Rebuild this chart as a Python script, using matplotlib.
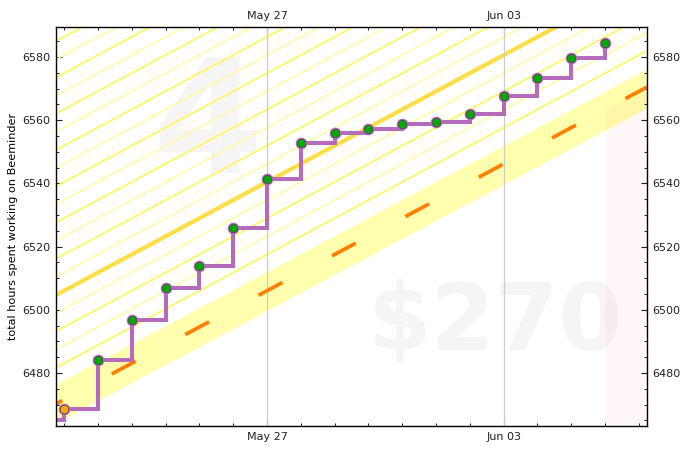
import numpy as np
import matplotlib
matplotlib.use("Agg")
import matplotlib.pyplot as plt
import matplotlib.dates as mdates

# Datapoints (first one sits just off the left edge)
dates = ["2014-05-20", "2014-05-21", "2014-05-22", "2014-05-23", "2014-05-24", "2014-05-25",
         "2014-05-26", "2014-05-27", "2014-05-28", "2014-05-29", "2014-05-30", "2014-05-31",
         "2014-06-01", "2014-06-02", "2014-06-03", "2014-06-04", "2014-06-05", "2014-06-06"]
hours = [6465.0, 6468.5, 6484.0, 6496.7, 6507.0, 6514.0, 6526.0, 6541.3, 6552.8, 6556.0,
         6557.3, 6558.8, 6559.5, 6562.0, 6567.8, 6573.3, 6579.6, 6584.3]

# Road and band end values at the two axis limits
x_limits = ["2014-05-20 18:15", "2014-06-07 05:45"]
y_limits = [6463.2, 6589.5]
road = [6470.2, 6570.5]
band_top = [6476.5, 6576.2]
band_bottom = [6464.2, 6563.9]
road_rate = 5.74  # hours per day, spacing of the guide lines
guide_days = [2, 3, 4, 5, 6, 7, 8, 9, 10, 11, 12, 13, 14, 15, 16, 17, 18, 19, 20]
thick_guide = 6
pink_start = "2014-06-06"

tick_dates = ["2014-05-27", "2014-06-03"]
ylabel = "total hours spent working on Beeminder"

x = mdates.date2num(np.array(dates, dtype="datetime64[m]"))
xl = mdates.date2num(np.array(x_limits, dtype="datetime64[m]"))
ticks = mdates.date2num(np.array(tick_dates, dtype="datetime64[m]"))
pink_x = mdates.date2num(np.datetime64(pink_start))

fig = plt.figure(figsize=(6.96, 4.53), dpi=100)
ax = fig.add_axes([56 / 696, 1 - 426 / 453, 591 / 696, 399 / 453])

# Watermarks
ax.text(208 / 696, 1 - 173 / 453, "4", transform=fig.transFigure, ha="center", va="baseline",
        fontsize=114, fontweight="bold", color="#f5f5f5", zorder=0)
ax.text(495 / 696, 1 - 350 / 453, "$270", transform=fig.transFigure, ha="center", va="baseline",
        fontsize=66, fontweight="bold", color="#f5f5f5", zorder=0)

# Yellow brick road
ax.fill_between(xl, band_bottom, band_top, color="#ffffad", lw=0, zorder=1)

# Guide lines above the road
for d in guide_days:
    vals = np.array(road) + d * road_rate
    if d == thick_guide:
        ax.plot(xl, vals, color="#ffdd44", lw=3.0, zorder=2)
    elif d % 2 == 0:
        ax.plot(xl, vals, color="#fff65a", lw=1.2, zorder=2)
    else:
        ax.plot(xl, vals, color="#fffb96", lw=1.0, zorder=2)

# Pink region under the road after the last datapoint
road_at_pink = np.interp(pink_x, xl, road)
ax.fill_between([pink_x, xl[1]], [y_limits[0], y_limits[0]], [road_at_pink, road[1]],
                color="#ff0000", alpha=0.03, lw=0, zorder=3)

for t in ticks:
    ax.axvline(t, color="#cccccc", lw=0.9, zorder=3)

# Dashed centre line
ax.plot(xl, road, color="#ff7f00", lw=2.7, zorder=4, solid_capstyle="butt",
        dash_capstyle="butt", linestyle=(5.3, (7.2, 15.0)))

# Datapoints
ax.plot(x, hours, drawstyle="steps-post", color="#b56bbb", lw=2.9, zorder=5, solid_joinstyle="miter")
ax.scatter(x[1:], hours[1:], s=70, color="#b56bbb", lw=0, zorder=6)
ax.scatter(x[2:], hours[2:], s=38, color="#00aa00", edgecolor="#5a3a5e", lw=0.5, zorder=7)
ax.scatter(x[1], hours[1], s=38, color="#ffa500", edgecolor="#5a3a5e", lw=0.5, zorder=7)

ax.set_xlim(xl)
ax.set_ylim(y_limits)
ax.set_xticks(ticks)
ax.set_xticklabels(["May 27", "Jun 03"])
ax.xaxis.set_minor_locator(mdates.DayLocator())
ax.set_yticks(np.arange(6480, 6581, 20))
ax.set_yticks(np.arange(6465, 6590, 5), minor=True)
ax.tick_params(which="major", direction="in", length=4.5, width=0.8, top=True, right=True,
               labeltop=True, labelright=True, labelsize=8.0, pad=4, colors="#222222")
ax.tick_params(which="minor", direction="in", length=2.5, width=0.7, top=True, right=True, colors="#222222")
ax.set_ylabel(ylabel, fontsize=8.1, labelpad=3)
for s in ax.spines.values():
    s.set_linewidth(1.0)
    s.set_zorder(10)

fig.savefig("out.png", dpi=100)
